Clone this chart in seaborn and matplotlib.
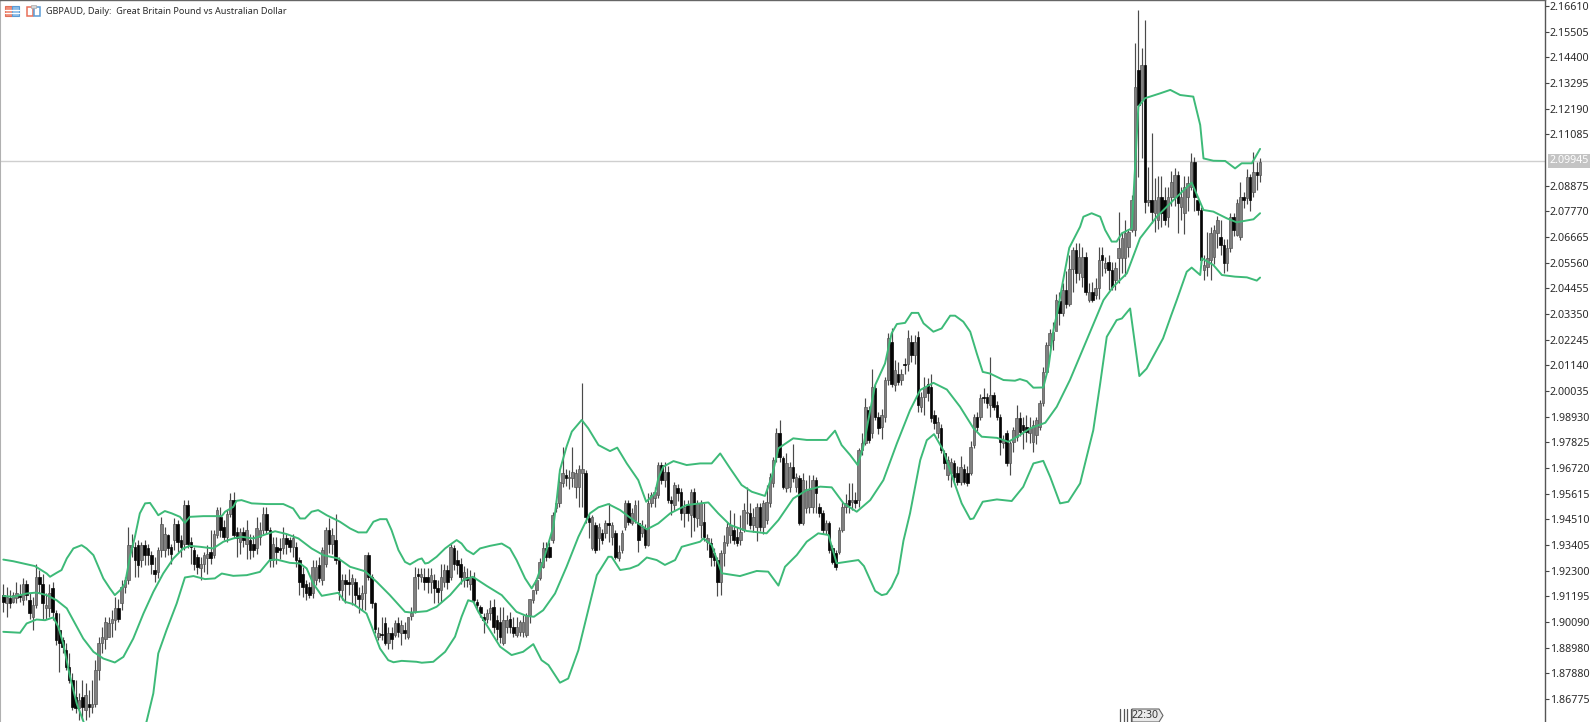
import matplotlib
matplotlib.use("Agg")
import matplotlib.pyplot as plt
import seaborn as sns
from matplotlib.patches import Rectangle, Polygon

# ---------- data: daily OHLC ----------
opens = [
1.9125,1.9089,1.9111,1.9096,1.9111,1.9125,1.9103,1.9175,1.9103,1.9032,
1.9082,1.9204,1.9175,1.9068,1.9068,1.9154,1.9046,1.8974,1.8931,1.8888,
1.8816,1.8759,1.8687,1.8637,1.8687,1.8630,1.8658,1.8644,1.8658,1.8802,
1.8917,1.8938,1.8945,1.9003,1.9017,1.9068,1.9089,1.9161,1.9190,1.9333,
1.9333,1.9340,1.9276,1.9340,1.9326,1.9297,1.9232,1.9225,1.9319,1.9319,
1.9383,1.9333,1.9362,1.9433,1.9362,1.9347,1.9512,1.9355,1.9319,1.9290,
1.9240,1.9261,1.9283,1.9312,1.9297,1.9383,1.9462,1.9419,1.9376,1.9476,
1.9534,1.9398,1.9355,1.9398,1.9347,1.9362,1.9347,1.9326,1.9376,1.9405,
1.9476,1.9405,1.9276,1.9333,1.9326,1.9326,1.9369,1.9362,1.9333,1.9333,
1.9276,1.9218,1.9175,1.9161,1.9132,1.9190,1.9254,1.9190,1.9261,1.9405,
1.9347,1.9362,1.9276,1.9146,1.9190,1.9182,1.9175,1.9182,1.9125,1.9110,
1.9132,1.9297,1.9204,1.9089,1.8946,1.8957,1.9003,1.8917,1.8960,1.8953,
1.9003,1.8960,1.8975,1.8946,1.9033,1.9053,1.9214,1.9204,1.9204,1.9204,
1.9182,1.9190,1.9154,1.9146,1.9182,1.9233,1.9204,1.9326,1.9276,1.9261,
1.9190,1.9204,1.9175,1.9197,1.9096,1.9075,1.9031,1.9024,1.9046,1.9075,
1.9017,1.9010,1.8917,1.8989,1.9024,1.8989,1.8953,1.8967,1.8967,1.8953,
1.9039,1.9104,1.9147,1.9197,1.9248,1.9326,1.9333,1.9362,1.9499,1.9520,
1.9606,1.9642,1.9628,1.9628,1.9592,1.9592,1.9649,1.9649,1.9456,1.9326,
1.9427,1.9370,1.9391,1.9391,1.9434,1.9377,1.9391,1.9283,1.9319,1.9420,
1.9520,1.9434,1.9448,1.9434,1.9391,1.9413,1.9341,1.9520,1.9541,1.9556,
1.9685,1.9620,1.9656,1.9534,1.9513,1.9585,1.9570,1.9477,1.9513,1.9470,
1.9570,1.9456,1.9427,1.9441,1.9355,1.9348,1.9305,1.9276,1.9183,1.9305,
1.9348,1.9384,1.9405,1.9377,1.9362,1.9405,1.9477,1.9477,1.9427,1.9420,
1.9506,1.9420,1.9448,1.9520,1.9606,1.9721,1.9821,1.9714,1.9585,1.9592,
1.9678,1.9592,1.9628,1.9434,1.9498,1.9505,1.9505,1.9620,1.9505,1.9477,
1.9405,1.9434,1.9326,1.9305,1.9312,1.9405,1.9505,1.9534,1.9527,1.9534,
1.9534,1.9749,1.9778,1.9922,1.9821,2.0015,1.9893,1.9850,1.9893,2.0051,
2.0216,2.0029,2.0079,2.0051,2.0122,2.0122,2.0216,2.0158,2.0237,1.9936,
1.9979,2.0036,2.0022,1.9900,1.9821,1.9843,1.9735,1.9642,1.9649,1.9692,
1.9649,1.9613,1.9670,1.9649,1.9649,1.9771,1.9893,1.9893,1.9979,1.9979,
1.9943,1.9986,1.9943,1.9893,1.9778,1.9821,1.9692,1.9785,1.9807,1.9886,
1.9857,1.9850,1.9821,1.9785,1.9814,1.9850,1.9950,2.0086,2.0201,2.0223,
2.0260,2.0390,2.0338,2.0440,2.0380,2.0530,2.0610,2.0510,2.0496,2.0582,
2.0396,2.0431,2.0417,2.0446,2.0589,2.0532,2.0560,2.0525,2.0482,2.0575,
2.0575,2.0575,2.0625,2.0697,2.0697,2.1386,2.1256,2.1407,2.0819,2.0826,
2.0769,2.0740,2.0840,2.0826,2.0754,2.0840,2.0840,2.0934,2.0797,2.0769,
2.0840,2.0883,2.0991,2.0826,2.0783,2.0525,2.0539,2.0568,2.0582,2.0683,
2.0668,2.0632,2.0553,2.0618,2.0754,2.0675,2.0668,2.0840,2.0833,2.0927,
2.0862,2.0948,2.0934]
highs = [
1.9175,1.9161,1.9146,1.9139,1.9182,1.9175,1.9197,1.9190,1.9132,1.9118,
1.9261,1.9233,1.9218,1.9132,1.9175,1.9182,1.9060,1.9046,1.8945,1.8917,
1.8874,1.8788,1.8759,1.8702,1.8759,1.8745,1.8716,1.8759,1.8845,1.8945,
1.8989,1.9032,1.9032,1.9060,1.9118,1.9110,1.9190,1.9204,1.9418,1.9390,
1.9355,1.9362,1.9355,1.9362,1.9347,1.9315,1.9290,1.9333,1.9462,1.9419,
1.9390,1.9347,1.9455,1.9448,1.9384,1.9534,1.9534,1.9376,1.9333,1.9304,
1.9290,1.9312,1.9340,1.9404,1.9404,1.9505,1.9505,1.9448,1.9491,1.9563,
1.9570,1.9419,1.9412,1.9419,1.9448,1.9390,1.9383,1.9462,1.9440,1.9505,
1.9505,1.9419,1.9376,1.9376,1.9370,1.9419,1.9390,1.9376,1.9390,1.9355,
1.9290,1.9247,1.9190,1.9182,1.9276,1.9276,1.9290,1.9333,1.9419,1.9455,
1.9412,1.9476,1.9290,1.9218,1.9218,1.9239,1.9218,1.9197,1.9161,1.9168,
1.9297,1.9312,1.9218,1.9096,1.8989,1.9032,1.9032,1.8989,1.8989,1.9017,
1.9032,1.9017,1.9010,1.9032,1.9075,1.9247,1.9240,1.9240,1.9240,1.9240,
1.9240,1.9218,1.9190,1.9261,1.9261,1.9254,1.9347,1.9340,1.9319,1.9283,
1.9250,1.9240,1.9233,1.9225,1.9110,1.9082,1.9046,1.9065,1.9103,1.9110,
1.9040,1.9075,1.9075,1.9040,1.9053,1.9032,1.9032,1.9020,1.9038,1.9046,
1.9110,1.9147,1.9200,1.9284,1.9355,1.9355,1.9355,1.9484,1.9535,1.9650,
1.9763,1.9670,1.9664,1.9763,1.9670,1.9685,2.0037,1.9664,1.9470,1.9470,
1.9440,1.9435,1.9410,1.9450,1.9520,1.9441,1.9405,1.9340,1.9405,1.9535,
1.9535,1.9499,1.9535,1.9535,1.9450,1.9430,1.9563,1.9570,1.9590,1.9700,
1.9700,1.9700,1.9680,1.9550,1.9610,1.9605,1.9585,1.9535,1.9535,1.9580,
1.9585,1.9535,1.9535,1.9520,1.9390,1.9370,1.9330,1.9290,1.9320,1.9385,
1.9440,1.9490,1.9480,1.9420,1.9470,1.9520,1.9592,1.9520,1.9500,1.9520,
1.9520,1.9535,1.9600,1.9650,1.9720,1.9843,1.9879,1.9725,1.9735,1.9700,
1.9777,1.9650,1.9640,1.9650,1.9620,1.9640,1.9640,1.9635,1.9520,1.9490,
1.9450,1.9445,1.9340,1.9320,1.9420,1.9525,1.9560,1.9606,1.9606,1.9570,
1.9760,1.9821,1.9972,1.9940,2.0100,2.0030,1.9915,1.9925,2.0065,2.0252,
2.0273,2.0137,2.0130,2.0100,2.0145,2.0266,2.0245,2.0245,2.0260,2.0000,
2.0065,2.0060,2.0079,1.9920,1.9890,1.9860,1.9750,1.9725,1.9715,1.9705,
1.9680,1.9725,1.9690,1.9680,1.9790,1.9905,1.9915,1.9990,2.0015,1.9995,
2.0151,2.0000,1.9960,1.9905,1.9815,1.9835,1.9790,1.9850,1.9943,1.9915,
1.9890,1.9900,1.9890,1.9880,1.9893,1.9965,2.0108,2.0216,2.0270,2.0300,
2.0420,2.0430,2.0470,2.0520,2.0590,2.0625,2.0640,2.0640,2.0625,2.0600,
2.0470,2.0475,2.0490,2.0625,2.0625,2.0582,2.0590,2.0560,2.0560,2.0776,
2.0690,2.0740,2.0697,2.0847,2.1500,2.1644,2.1479,2.1601,2.0970,2.1116,
2.0920,2.0930,2.0930,2.0880,2.0880,2.0950,2.0962,2.0950,2.0880,2.0930,
2.0930,2.1027,2.1010,2.0840,2.0797,2.0590,2.0690,2.0710,2.0720,2.0755,
2.0740,2.0660,2.0660,2.0770,2.0770,2.0830,2.0905,2.0860,2.0960,2.0940,
2.1034,2.0991,2.1005]
lows = [
1.9053,1.9032,1.9068,1.9089,1.9089,1.9096,1.9082,1.9103,1.9024,1.8974,
1.9068,1.9132,1.9017,1.9024,1.9032,1.9017,1.8910,1.8795,1.8874,1.8802,
1.8745,1.8630,1.8616,1.8587,1.8587,1.8587,1.8601,1.8616,1.8644,1.8759,
1.8874,1.8895,1.8945,1.8945,1.8974,1.9010,1.9060,1.9132,1.9175,1.9290,
1.9204,1.9204,1.9247,1.9254,1.9254,1.9218,1.9182,1.9200,1.9290,1.9290,
1.9297,1.9260,1.9318,1.9312,1.9290,1.9320,1.9328,1.9261,1.9233,1.9218,
1.9190,1.9225,1.9218,1.9261,1.9283,1.9369,1.9376,1.9362,1.9355,1.9462,
1.9369,1.9290,1.9304,1.9333,1.9282,1.9282,1.9290,1.9304,1.9340,1.9390,
1.9390,1.9247,1.9247,1.9261,1.9280,1.9304,1.9304,1.9312,1.9290,1.9247,
1.9125,1.9118,1.9103,1.9111,1.9111,1.9168,1.9182,1.9168,1.9247,1.9305,
1.9304,1.9261,1.9103,1.9103,1.9089,1.9125,1.9082,1.9082,1.9046,1.9060,
1.9060,1.9190,1.9068,1.8960,1.8931,1.8931,1.8910,1.8895,1.8895,1.8946,
1.8945,1.8910,1.8938,1.8938,1.9017,1.9046,1.9153,1.9180,1.9146,1.9132,
1.9132,1.9090,1.9089,1.9096,1.9160,1.9153,1.9190,1.9233,1.9218,1.9175,
1.9160,1.9161,1.9146,1.9095,1.9060,1.9032,1.8960,1.9003,1.9017,1.8960,
1.8931,1.8917,1.8910,1.8960,1.8960,1.8945,1.8945,1.8950,1.8945,1.8945,
1.9003,1.9090,1.9130,1.9190,1.9240,1.9270,1.9283,1.9350,1.9484,1.9505,
1.9592,1.9593,1.9580,1.9590,1.9541,1.9505,1.9505,1.9435,1.9370,1.9320,
1.9305,1.9320,1.9345,1.9370,1.9355,1.9340,1.9280,1.9270,1.9305,1.9405,
1.9425,1.9425,1.9435,1.9310,1.9375,1.9330,1.9335,1.9505,1.9505,1.9545,
1.9605,1.9590,1.9520,1.9470,1.9490,1.9530,1.9450,1.9420,1.9445,1.9375,
1.9400,1.9420,1.9370,1.9360,1.9320,1.9250,1.9250,1.9120,1.9124,1.9250,
1.9335,1.9350,1.9345,1.9335,1.9340,1.9395,1.9430,1.9410,1.9395,1.9360,
1.9400,1.9390,1.9430,1.9505,1.9590,1.9700,1.9700,1.9580,1.9570,1.9570,
1.9610,1.9570,1.9425,1.9425,1.9480,1.9480,1.9480,1.9480,1.9460,1.9390,
1.9390,1.9305,1.9260,1.9235,1.9300,1.9395,1.9480,1.9477,1.9490,1.9500,
1.9505,1.9730,1.9770,1.9780,1.9800,1.9880,1.9820,1.9795,1.9870,2.0030,
2.0020,2.0005,2.0030,2.0030,2.0075,2.0090,2.0130,2.0120,1.9915,1.9915,
1.9900,1.9960,1.9870,1.9840,1.9800,1.9735,1.9670,1.9620,1.9590,1.9610,
1.9600,1.9600,1.9605,1.9595,1.9640,1.9760,1.9830,1.9880,1.9950,1.9930,
1.9893,1.9920,1.9880,1.9730,1.9760,1.9680,1.9640,1.9740,1.9790,1.9810,
1.9755,1.9785,1.9780,1.9740,1.9775,1.9835,1.9940,2.0075,2.0190,2.0180,
2.0295,2.0290,2.0325,2.0360,2.0370,2.0430,2.0470,2.0480,2.0453,2.0415,
2.0385,2.0385,2.0400,2.0400,2.0500,2.0510,2.0440,2.0440,2.0440,2.0470,
2.0510,2.0500,2.0580,2.0690,2.0670,2.0926,2.1005,2.0769,2.0800,2.0725,
2.0690,2.0700,2.0710,2.0720,2.0710,2.0800,2.0800,2.0683,2.0740,2.0680,
2.0780,2.0870,2.0780,2.0760,2.0550,2.0482,2.0500,2.0480,2.0550,2.0620,
2.0590,2.0510,2.0520,2.0600,2.0670,2.0670,2.0655,2.0790,2.0810,2.0780,
2.0840,2.0870,2.0905]
closes = [
1.9096,1.9118,1.9089,1.9125,1.9132,1.9118,1.9175,1.9125,1.9046,1.9082,
1.9204,1.9175,1.9089,1.9082,1.9132,1.9053,1.8931,1.8917,1.8903,1.8816,
1.8759,1.8644,1.8637,1.8673,1.8644,1.8694,1.8644,1.8658,1.8802,1.8917,
1.8945,1.9010,1.9003,1.9024,1.9068,1.9024,1.9161,1.9190,1.9340,1.9340,
1.9276,1.9254,1.9340,1.9297,1.9297,1.9261,1.9218,1.9319,1.9433,1.9390,
1.9326,1.9304,1.9433,1.9355,1.9333,1.9512,1.9347,1.9333,1.9261,1.9247,
1.9261,1.9297,1.9304,1.9283,1.9390,1.9491,1.9405,1.9376,1.9476,1.9534,
1.9383,1.9369,1.9398,1.9362,1.9405,1.9319,1.9319,1.9412,1.9405,1.9476,
1.9405,1.9276,1.9347,1.9312,1.9319,1.9369,1.9347,1.9333,1.9369,1.9276,
1.9182,1.9161,1.9132,1.9125,1.9247,1.9247,1.9197,1.9319,1.9405,1.9347,
1.9383,1.9276,1.9146,1.9190,1.9175,1.9175,1.9197,1.9125,1.9110,1.9132,
1.9297,1.9204,1.9089,1.8981,1.8960,1.8953,1.8917,1.8960,1.8938,1.9003,
1.8967,1.8996,1.8960,1.9032,1.9046,1.9204,1.9207,1.9218,1.9182,1.9182,
1.9211,1.9154,1.9139,1.9204,1.9233,1.9182,1.9333,1.9261,1.9254,1.9204,
1.9225,1.9190,1.9204,1.9103,1.9082,1.9046,1.9017,1.9046,1.9068,1.8989,
1.8981,1.8946,1.9017,1.9017,1.8989,1.8960,1.8989,1.9010,1.9010,1.9039,
1.9110,1.9147,1.9190,1.9269,1.9326,1.9290,1.9290,1.9470,1.9520,1.9613,
1.9649,1.9628,1.9635,1.9656,1.9649,1.9670,1.9670,1.9463,1.9441,1.9463,
1.9319,1.9420,1.9362,1.9434,1.9427,1.9427,1.9290,1.9312,1.9391,1.9520,
1.9441,1.9477,1.9513,1.9362,1.9420,1.9341,1.9520,1.9556,1.9570,1.9685,
1.9620,1.9656,1.9534,1.9520,1.9599,1.9563,1.9477,1.9506,1.9477,1.9570,
1.9463,1.9520,1.9520,1.9377,1.9370,1.9290,1.9276,1.9183,1.9305,1.9355,
1.9420,1.9427,1.9362,1.9348,1.9398,1.9491,1.9484,1.9427,1.9463,1.9506,
1.9420,1.9520,1.9527,1.9635,1.9707,1.9821,1.9721,1.9592,1.9692,1.9678,
1.9628,1.9635,1.9434,1.9620,1.9584,1.9577,1.9620,1.9563,1.9477,1.9405,
1.9434,1.9319,1.9269,1.9247,1.9405,1.9505,1.9520,1.9512,1.9534,1.9520,
1.9749,1.9778,1.9936,1.9792,2.0022,1.9893,1.9843,1.9900,2.0051,2.0230,
2.0036,2.0094,2.0044,2.0079,2.0115,2.0230,2.0158,2.0216,1.9943,1.9979,
2.0022,1.9993,1.9886,1.9864,1.9871,1.9749,1.9692,1.9706,1.9699,1.9635,
1.9613,1.9677,1.9613,1.9606,1.9764,1.9893,1.9850,1.9972,1.9972,1.9950,
1.9986,1.9936,1.9893,1.9785,1.9792,1.9692,1.9778,1.9835,1.9886,1.9828,
1.9835,1.9828,1.9843,1.9857,1.9878,1.9950,2.0086,2.0201,2.0252,2.0259,
2.0395,2.0338,2.0440,2.0380,2.0530,2.0610,2.0510,2.0580,2.0582,2.0431,
2.0431,2.0396,2.0446,2.0568,2.0568,2.0553,2.0525,2.0453,2.0532,2.0618,
2.0661,2.0683,2.0690,2.0826,2.1314,2.1235,2.1407,2.0819,2.0826,2.0776,
2.0826,2.0840,2.0769,2.0740,2.0840,2.0905,2.0934,2.0811,2.0840,2.0883,
2.0898,2.0991,2.0840,2.0783,2.0568,2.0546,2.0575,2.0683,2.0697,2.0740,
2.0632,2.0553,2.0618,2.0754,2.0697,2.0812,2.0841,2.0826,2.0927,2.0826,
2.0948,2.0934,2.0991]

# ---------- Bollinger bands (bar number, price) ----------
upper_bar = [0,3,6.1,9.6,13.2,14.2,16.2,17.7,19.3,21.3,23.8,25.3,27.4,28.9,30.4,32.4,33.9,35.5,37,38.5,40,41.5,43.1,44.6,46.1,47.1,49.1,51.2,53.7,55.2,56.7,60.8,66.4,67.4,69.9,70.9,72.4,75.5,80,85.1,88.1,90.2,91.7,93.7,95.7,98.3,
102.3,105.4,107.9,110.4,112.5,114.5,116.5,118,120.1,122.1,123.6,126.1,127.2,128.2,129.2,131.7,134.3,136.3,137.8,139.3,140.8,142.9,144.9,147.9,151.5,154,156,158.6,160.6,
162.1,164.2,167.2,168.2,169.2,171.2,172.8,175.8,177.8,180.9,184.4,186.6,189.5,193,195.4,198.1,199.1,200.6,203.7,207.7,211.8,215.3,217.9,220.9,224.4,227.5,231.5,233.6,235.6,240.1,244.2,250.3,252.8,254.8,257.4,259.7,261.4,263.5,265,268,270,271.6,274.1,276.1,278.1,279.7,282.7,285.2,287.8,289.3,291.8,293.9,295.9,297.7,299.9,304,307.5,309,311.1,313.1,316.1,317.7,319.2,320.7,322,324,327.3,328.3,330.8,333.4,334.9,336.9,338.4,340,343,344,345,347,351.6,354.7,357.7,361.7,363.8,364.8,367.8,371.4,374.4,376.4,379.5,382]
upper_val = [1.9278,1.9271,1.9261,1.9250,1.9218,1.9204,1.9221,1.9233,1.9283,1.9326,1.9340,1.9326,1.9297,1.9247,1.9197,1.9154,1.9125,1.9146,1.9175,1.9290,1.9376,1.9477,1.9520,1.9522,1.9491,1.9469,1.9487,1.9477,1.9462,1.9436,1.9462,1.9465,1.9465,1.9484,1.9505,1.9531,1.9534,1.9520,1.9517,1.9517,1.9498,1.9455,1.9455,1.9484,1.9491,1.9469,
1.9441,1.9412,1.9395,1.9395,1.9441,1.9452,1.9452,1.9405,1.9319,1.9268,1.9257,1.9278,1.9283,1.9261,1.9264,1.9290,1.9326,1.9347,1.9362,1.9347,1.9319,1.9301,1.9326,1.9337,1.9347,1.9326,1.9276,1.9197,1.9154,
1.9190,1.9276,1.9420,1.9534,1.9664,1.9764,1.9829,1.9879,1.9843,1.9771,1.9745,1.9760,1.9692,1.9620,1.9527,1.9563,1.9628,1.9678,1.9702,1.9685,1.9692,1.9692,1.9735,1.9671,1.9599,1.9570,1.9552,1.9635,1.9757,1.9800,1.9793,1.9793,1.9833,1.9771,1.9728,1.9685,1.9764,1.9921,2.0029,2.0122,2.0252,2.0292,2.0297,2.0340,2.0340,2.0295,2.0259,2.0273,2.0328,2.0328,2.0302,2.0259,2.0165,2.0086,2.0079,2.0051,2.0048,2.0055,2.0046,2.0018,2.0019,2.0108,2.0266,2.0366,2.0470,2.0620,2.0711,2.0754,2.0769,2.0754,2.0697,2.0647,2.0647,2.0683,2.0704,2.0970,2.1228,2.1264,2.1285,2.1300,2.1278,2.1271,2.1149,2.1005,2.0995,2.0994,2.0962,2.0984,2.0984,2.1046]

middle_bar = [0,3,5.1,7.1,10.1,13.2,16.2,19.3,21.8,24.3,27.4,30.4,33.9,36.5,39.5,42.6,45.6,48.6,51.7,54.7,56.7,59.8,63.8,66.9,69.9,72.4,76,79,82.6,86.1,89.7,93.7,97.3,
101.8,105.4,109.9,113.5,117.5,122.1,124.1,128.7,131.7,135.8,139.8,142.7,146.9,151.5,156,159.1,161.3,164.1,167.7,171.2,174.8,
176.8,178.3,180.9,183.9,187.5,191.5,195.6,199.1,202.7,207.7,214.3,217.3,220.9,226,232,235.6,240.1,244.2,248.3,251.8,255.4,259.4,263.5,267.5,271.6,275.6,278.7,282.7,286.8,290.8,294.9,297.4,302,305.5,309,312.1,316.7,320.2,324.2,329.3,334.4,337.4,341.5,345.5,350.6,355.7,361.2,364.8,367.8,371.9,374.9,380,382]
middle_val = [1.9121,1.9118,1.9125,1.9132,1.9136,1.9125,1.9103,1.9068,1.9003,1.8938,1.8881,1.8852,1.8835,1.8859,1.8938,1.9046,1.9139,1.9218,1.9283,1.9326,1.9337,1.9333,1.9326,1.9355,1.9369,1.9376,1.9369,1.9383,1.9400,1.9388,1.9369,1.9326,1.9297,
1.9283,1.9247,1.9228,1.9182,1.9125,1.9053,1.9050,1.9056,1.9075,1.9125,1.9190,1.9204,1.9165,1.9125,1.9053,1.9035,1.9032,1.9060,1.9132,1.9247,1.9376,
1.9434,1.9477,1.9503,1.9517,1.9491,1.9448,1.9408,1.9434,1.9477,1.9513,1.9524,1.9477,1.9427,1.9401,1.9391,1.9448,1.9541,1.9577,1.9592,1.9589,1.9520,1.9484,1.9534,1.9620,1.9778,1.9921,2.0008,2.0039,2.0010,1.9936,1.9843,1.9807,1.9802,1.9785,1.9814,1.9843,1.9867,1.9936,2.0051,2.0223,2.0395,2.0453,2.0510,2.0661,2.0754,2.0826,2.0901,2.0783,2.0776,2.0747,2.0730,2.0743,2.0769]

lower_bar = [0,5.1,7.1,10.1,12.7,15.2,16.7,18.2,20.3,22.3,24.3,30.4,36.5,40.5,43.6,45.6,47.1,49.6,52.7,55.2,57.8,61.3,64.3,66.4,69.9,74,78,81,83.1,87.1,90.2,92.2,94.2,96.8,
101.8,103.9,106.4,110.4,112,114.5,117,118.6,121.1,125.6,127.2,130.7,134.3,137.3,139.3,141.3,142.9,144.4,147.9,151,154.5,158,161.1,163.6,165.7,169.2,171.7,174.8,177.3,180.4,183.9,184.9,187.5,190.5,193,195.6,
198.6,201.1,204.2,206.2,211.8,212.8,215.3,218.4,223.9,229,232.5,235.6,237.6,241.2,244.2,247.7,250.8,253.3,259.9,261.6,263.5,265,267,268.5,270,272,273.6,275.6,278.7,280.7,282.9,285.7,288.8,291.3,293.9,294.9,297.7,302,306.5,310,313.1,316.1,318.2,321.2,323.7,327.3,331.3,333.4,335.4,338.4,340,342.5,345.3,347.5,350,352.5,355,356.7,359.7,361.2,363.8,364.3,367.8,370.4,374.4,378,381,382]
lower_val = [1.8967,1.8963,1.9003,1.9020,1.9017,1.9029,1.8989,1.8917,1.8773,1.8659,1.8584,1.8329,1.8257,1.8429,1.8584,1.8702,1.8874,1.8974,1.9089,1.9201,1.9207,1.9194,1.9197,1.9218,1.9208,1.9211,1.9225,1.9276,1.9278,1.9264,1.9261,1.9240,1.9175,1.9122,
1.9135,1.9096,1.9086,1.9046,1.8989,1.8895,1.8845,1.8836,1.8842,1.8838,1.8834,1.8838,1.8881,1.8946,1.9032,1.9103,1.9096,1.9053,1.8974,1.8903,1.8867,1.8881,1.8914,1.8845,1.8824,1.8748,1.8766,1.8888,1.9032,1.9211,1.9290,1.9290,1.9233,1.9240,1.9254,1.9287,
1.9276,1.9255,1.9276,1.9333,1.9355,1.9369,1.9341,1.9219,1.9207,1.9229,1.9226,1.9166,1.9247,1.9298,1.9355,1.9391,1.9384,1.9262,1.9276,1.9250,1.9190,1.9143,1.9125,1.9130,1.9160,1.9220,1.9359,1.9477,1.9706,1.9792,1.9818,1.9749,1.9620,1.9520,1.9452,1.9455,1.9527,1.9537,1.9530,1.9591,1.9692,1.9703,1.9634,1.9520,1.9527,1.9606,1.9835,2.0036,2.0237,2.0309,2.0316,2.0359,2.0068,2.0100,2.0165,2.0230,2.0330,2.0396,2.0517,2.0535,2.0503,2.0575,2.0546,2.0503,2.0496,2.0493,2.0479,2.0492]

price_ticks = [2.16610,2.15505,2.14400,2.13295,2.12190,2.11085,2.08875,2.07770,2.06665,2.05560,
               2.04455,2.03350,2.02245,2.01140,2.00035,1.98930,1.97825,1.96720,1.95615,1.94510,
               1.93405,1.92300,1.91195,1.90090,1.88980,1.87880,1.86775]
last_price = 2.09945
chart_title = "GBPAUD, Daily:  Great Britain Pound vs Australian Dollar"
time_tag = "22:30"

# ---------- styling ----------
W, H = 1593, 722
GREEN = "#3dba78"
sns.set_theme(style="white")
plt.rcParams["font.family"] = ["Noto Sans", "DejaVu Sans"]

fig = plt.figure(figsize=(W / 100, H / 100), dpi=100, facecolor="white")
ax = fig.add_axes([0, 0, 1545 / W, 1])
BAR_PX, X0_PX = 3.29, 3.3
ax.set_xlim(-X0_PX / BAR_PX, (1545 - X0_PX) / BAR_PX)
ax.set_ylim(2.1687 - 722 * 0.0004305, 2.1687)
ax.set_facecolor("white")

n = min(len(opens), len(highs), len(lows), len(closes))
idx = list(range(n))
ax.vlines(idx, lows[:n], highs[:n], color="#4a4a4a", lw=0.85, zorder=2)
up = [i for i in idx if closes[i] >= opens[i]]
dn = [i for i in idx if closes[i] < opens[i]]
ax.bar(up, [closes[i] - opens[i] for i in up], bottom=[opens[i] for i in up],
       width=0.78, color="#808080", edgecolor="#555555", linewidth=0.5, zorder=3)
ax.bar(dn, [opens[i] - closes[i] for i in dn], bottom=[closes[i] for i in dn],
       width=0.78, color="#050505", edgecolor="#050505", linewidth=0.5, zorder=3)

for xs, ys in ((upper_bar, upper_val), (middle_bar, middle_val), (lower_bar, lower_val)):
    m = min(len(xs), len(ys))
    sns.lineplot(x=xs[:m], y=ys[:m], ax=ax, color=GREEN, lw=1.4, sort=False,
                 estimator=None, errorbar=None, zorder=4)
for ln in ax.get_lines():
    ln.set_solid_joinstyle("round")

ax.axhline(last_price, color="#cfcfcf", lw=1.0, zorder=1)

# right price scale
ax.yaxis.tick_right()
ax.set_yticks(price_ticks)
ax.set_yticklabels([f"{t:.5f}" for t in price_ticks], fontsize=7.7, color="#2a2a2a")
ax.tick_params(axis="y", length=3, width=0.8, color="#444444", pad=0.6, right=True)
ax.set_xticks([])
for name, sp in ax.spines.items():
    sp.set_visible(name in ("right", "top", "left"))
ax.spines["right"].set_color("#555555")
ax.spines["right"].set_linewidth(1.0)
ax.spines["top"].set_color("#666666")
ax.spines["top"].set_linewidth(1.0)
ax.spines["left"].set_color("#b0b0b0")
ax.spines["left"].set_linewidth(1.5)

ax.text(1.0 + 4 / 1545, last_price, f"{last_price:.5f}", transform=ax.get_yaxis_transform(),
        fontsize=7.7, color="white", va="center", ha="left", zorder=6,
        bbox=dict(boxstyle="square,pad=0.12", fc="#c4c4c4", ec="none"))

# helpers in top-left pixel coordinates for the terminal's interface marks
def px(x, y):
    return x / W, 1 - y / H

fig.text(*px(46, 11.5), chart_title, fontsize=6.55, color="#2a2a2a", va="center", ha="left")

def frect(x, y, w, h, fc, ec, lw=0.8):
    fig.add_artist(Rectangle(px(x, y + h), w / W, h / H, transform=fig.transFigure,
                             fc=fc, ec=ec, lw=lw))

# one-click / depth icons
frect(5, 6, 7, 10, "#f08d78", "#e0705a")
frect(12, 6, 7, 10, "#8dbde8", "#5a9bd5")
for yy in (9.5, 13):
    fig.add_artist(plt.Line2D([5 / W, 19 / W], [1 - yy / H, 1 - yy / H], color="white", lw=0.9))
frect(27, 7, 6, 9, "white", "#e8705a", 1.1)
frect(34, 7, 6, 9, "white", "#5a9bd5", 1.1)
frect(31, 5, 5, 3, "#d5d5d5", "#aaaaaa", 0.5)

# period separator / time tag at the bottom
for xx in (1120, 1123.5, 1127, 1130.5):
    fig.add_artist(plt.Line2D([xx / W, xx / W], [0, 13 / H], color="#555555", lw=0.9))
poly = [px(1132, 709), px(1159, 709), px(1163, 715.5), px(1159, 722), px(1132, 722)]
fig.add_artist(Polygon(poly, closed=True, transform=fig.transFigure, fc="#e9e9e9", ec="#666666", lw=0.8))
fig.text(*px(1145.5, 716), time_tag, fontsize=7.6, color="#333333", va="center", ha="center")

fig.savefig("out.png", dpi=100, facecolor="white")
